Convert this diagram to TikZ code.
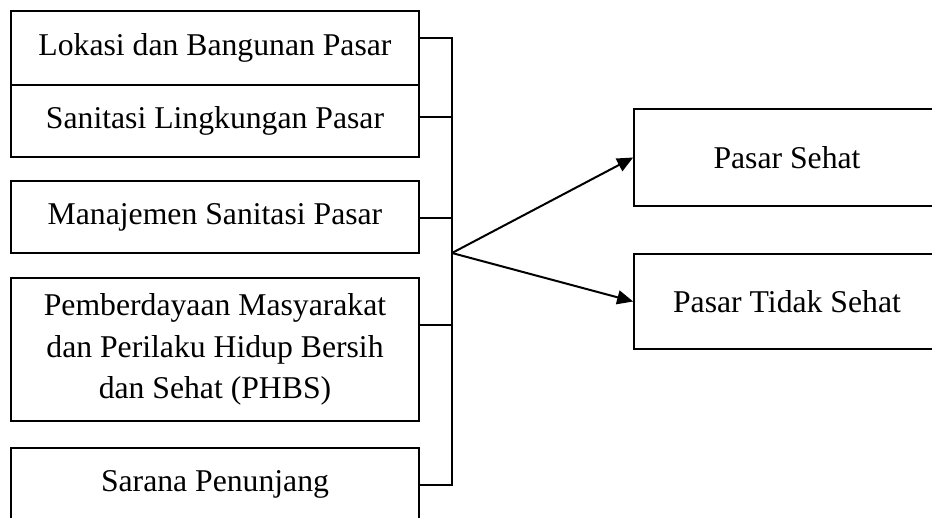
\documentclass[tikz,border=0pt]{standalone}
\usepackage{fontspec}
\setmainfont{Liberation Serif}
\usetikzlibrary{arrows.meta}
\begin{document}
\begin{tikzpicture}[x=1pt,y=-1pt,
  lbox/.style={draw=black,line width=2pt,minimum width=408pt,inner sep=0pt,align=center,
    font=\fontsize{31.7}{41.5}\selectfont},
  rbox/.style={draw=black,line width=1.7pt,minimum width=306pt,inner sep=0pt,align=center,
    font=\fontsize{31.7}{41.5}\selectfont},
  link/.style={line width=2pt},
  arr/.style={line width=2pt,-{Triangle[length=16pt,width=14pt]}}]
\useasboundingbox (0,0) rectangle (932,518);
\clip (0,0) rectangle (932,518);
% left boxes
\node[lbox,minimum height=74pt] (b1) at (215,48) {Lokasi dan Bangunan Pasar};
\node[lbox,minimum height=72pt] (b2) at (215,121) {Sanitasi Lingkungan Pasar};
\node[lbox,minimum height=72pt] (b3) at (215,217) {Manajemen Sanitasi Pasar};
\node[lbox,minimum height=143pt] (b4) at (215,349.5) {Pemberdayaan Masyarakat\\dan Perilaku Hidup Bersih\\dan Sehat (PHBS)};
\node[lbox,minimum height=73pt] (b5) at (215,484.5) {Sarana Penunjang};
% right boxes
\node[rbox,minimum height=97pt] (ps) at (787,157.5) {Pasar Sehat};
\node[rbox,minimum height=95pt] (pts) at (787,301.5) {Pasar Tidak Sehat};
% bracket
\coordinate (j1) at (452,38);
\coordinate (j2) at (452,117);
\coordinate (j3) at (452,218);
\coordinate (j4) at (452,325);
\coordinate (j5) at (452,485);
\coordinate (hub) at (452,253);
\draw[link] (b1.east |- j1) -- (j1) -- (j5) -- (b5.east |- j5);
\draw[link] (b2.east |- j2) -- (j2);
\draw[link] (b3.east |- j3) -- (j3);
\draw[link] (b4.east |- j4) -- (j4);
% arrows
\draw[arr] (hub) -- (ps.west);
\draw[arr] (hub) -- (pts.west);
\end{tikzpicture}
\end{document}
